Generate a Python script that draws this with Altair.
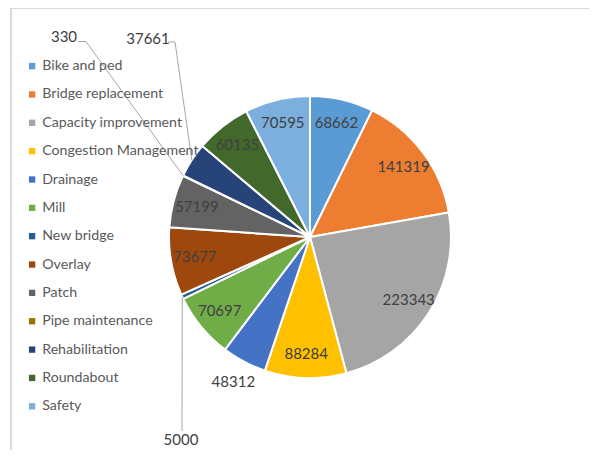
import math
import altair as alt
import pandas as pd

categories = ["Bike and ped", "Bridge replacement", "Capacity improvement",
              "Congestion Management", "Drainage", "Mill", "New bridge",
              "Overlay", "Patch", "Pipe maintenance", "Rehabilitation",
              "Roundabout", "Safety"]
values = [68662, 141319, 223343, 88284, 48312, 70697, 5000,
          73677, 57199, 330, 37661, 60135, 70595]
palette = ["#5B9BD5", "#ED7D31", "#A5A5A5", "#FFC000", "#4472C4", "#70AD47",
           "#255E91", "#9E480E", "#636363", "#997300", "#264478", "#43682B",
           "#7CAFDD"]

FONT = "Lato"
TEXT_COL = "#404040"
TOTAL_W, TOTAL_H = 581, 442
PW, PH = 300, 300
PAD_L, PAD_T = 152, 79
R = 141
CX, CY = PW / 2, PH / 2

total = sum(values)
mids = []
acc = 0
for v in values:
    mids.append((acc + v / 2) / total * 2 * math.pi)
    acc += v


def slice_pt(i, r=R):
    a = mids[i]
    return CX + r * math.sin(a), CY - r * math.cos(a)


def P(x, y):  # page pixel -> plot pixel
    return x - 8 - PAD_L, y - 8 - PAD_T


outside = {"Drainage", "New bridge", "Pipe maintenance", "Rehabilitation"}
df = pd.DataFrame({"category": categories, "value": values,
                   "idx": list(range(len(categories)))})
df["lab_in"] = [("" if c in outside else str(v)) for c, v in zip(categories, values)]
df["lab_out"] = [(str(v) if c == "Drainage" else "") for c, v in zip(categories, values)]

base = alt.Chart(df)

arcs = base.mark_arc(outerRadius=R, stroke="white", strokeWidth=2).encode(
    theta=alt.Theta("value:Q", stack=True),
    color=alt.Color("category:N", sort=categories,
                    scale=alt.Scale(domain=categories, range=palette),
                    legend=alt.Legend(title=None, orient="none",
                                      legendX=17 - PAD_L, legendY=51 - PAD_T,
                                      symbolType="square", symbolSize=40,
                                      symbolStrokeWidth=0,
                                      labelFont=FONT, labelFontSize=14.2,
                                      labelColor="#595959", rowPadding=13.35,
                                      labelOffset=3, labelLimit=300, padding=0)),
    order=alt.Order("idx:Q"),
)

text_in = base.mark_text(font=FONT, fontSize=15, color=TEXT_COL, radius=117).encode(
    theta=alt.Theta("value:Q", stack=True),
    text="lab_in:N",
    order=alt.Order("idx:Q"),
)

text_out = base.mark_text(font=FONT, fontSize=15, color=TEXT_COL, radius=164).encode(
    theta=alt.Theta("value:Q", stack=True),
    text="lab_out:N",
    order=alt.Order("idx:Q"),
)

# callouts with leader lines: (category, label centre on page, path points on page)
callouts = [
    ("Pipe maintenance", (64, 37), [(78, 41.5), (86, 41.5)]),
    ("Rehabilitation", (148, 39), [(168, 42), (175, 42)]),
    ("New bridge", (181, 440), [(182, 431)]),
]
line_rows = []
lab_rows = []
for g, (cat, lab, path) in enumerate(callouts):
    i = categories.index(cat)
    pts = [P(*p) for p in path] + [slice_pt(i)]
    for k, (x, y) in enumerate(pts):
        line_rows.append({"g": g, "k": k, "x": x, "y": y})
    lx, ly = P(*lab)
    lab_rows.append({"x": lx, "y": ly, "t": str(values[i])})

lines = alt.Chart(pd.DataFrame(line_rows)).mark_line(color="#A6A6A6", strokeWidth=1).encode(
    x=alt.X("x:Q", scale=None), y=alt.Y("y:Q", scale=None),
    detail="g:N", order="k:Q")

callout_text = alt.Chart(pd.DataFrame(lab_rows)).mark_text(
    font=FONT, fontSize=15, color=TEXT_COL).encode(
    x=alt.X("x:Q", scale=None), y=alt.Y("y:Q", scale=None), text="t:N")

bx0, by0 = P(11, 5.5)
bx1, by1 = P(597, 458)
border_top = alt.Chart(df).mark_rule(color="#D9D9D9", strokeWidth=1).encode(
    x=alt.value(bx0), x2=alt.value(bx1), y=alt.value(-PAD_T + 0.5))
border_left = alt.Chart(df).mark_rule(color="#D9D9D9", strokeWidth=1).encode(
    x=alt.value(bx0), y=alt.value(-PAD_T), y2=alt.value(by1))

chart = alt.layer(border_top, border_left, arcs, lines, text_in, text_out, callout_text).properties(
    width=PW, height=PH,
    background="white",
    padding={"left": PAD_L, "top": PAD_T,
             "right": TOTAL_W - PAD_L - PW, "bottom": TOTAL_H - PAD_T - PH},
    autosize=alt.AutoSizeParams(type="none"),
).configure_view(strokeWidth=0)

chart.save("out.html", embed_options={"renderer": "svg", "actions": False})
